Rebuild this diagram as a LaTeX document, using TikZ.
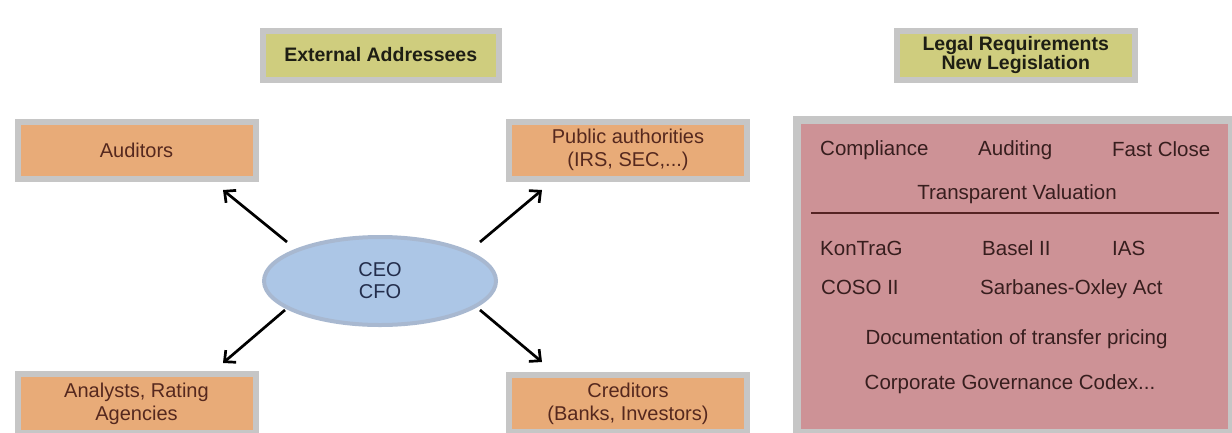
\documentclass[tikz,border=0pt]{standalone}
\usepackage{fontspec}
\setmainfont{Liberation Sans}
\usetikzlibrary{shapes.geometric,arrows.meta}

\definecolor{framegray}{RGB}{198,198,198}
\definecolor{headfill}{RGB}{207,205,126}
\definecolor{partyfill}{RGB}{232,171,120}
\definecolor{lawfill}{RGB}{205,146,150}
\definecolor{bossfill}{RGB}{172,198,230}
\definecolor{bossrim}{RGB}{168,184,208}
\definecolor{headtext}{RGB}{30,30,20}
\definecolor{partytext}{RGB}{85,40,30}
\definecolor{lawtext}{RGB}{55,30,30}
\definecolor{bosstext}{RGB}{35,45,75}
\definecolor{rulecolor}{RGB}{85,35,35}

\begin{document}
\begin{tikzpicture}[x=1pt,y=-1pt,
  framed/.style={draw=framegray,line width=6pt,rectangle,align=center,inner sep=0pt},
  headbox/.style={framed,fill=headfill,text=headtext,font=\fontsize{19.5}{18.5}\selectfont\bfseries},
  partybox/.style={framed,fill=partyfill,text=partytext,minimum width=238pt,font=\fontsize{20}{23}\selectfont},
  lawitem/.style={text=lawtext,font=\fontsize{20.5}{23}\selectfont,inner sep=0pt},
  link/.style={line width=2.7pt,black,-{Straight Barb[length=8.5pt,width=16pt,line width=2.7pt]}}
]
\useasboundingbox (0,0) rectangle (1232,432);

% headings
\node[headbox,minimum width=236.5pt,minimum height=49pt] (ext) at (380.75,55) {External Addressees};
\node[headbox,minimum width=238.5pt,minimum height=49pt] (leg) at (1015.75,55) {Legal Requirements\\New Legislation};

% addressee boxes
\node[partybox,minimum height=56.5pt] (aud) at (136.5,150.25) {Auditors};
\node[partybox,minimum height=56.5pt] (pub) at (628,150.25) {Public authorities\\(IRS, SEC,...)};
\node[partybox,minimum height=58.5pt] (ana) at (136.5,403.5) {Analysts, Rating\\Agencies};
\node[partybox,minimum height=57pt] (cre) at (628,403.5) {Creditors\\(Banks, Investors)};

% management
\node[ellipse,draw=bossrim,line width=4pt,fill=bossfill,minimum width=232pt,minimum height=88pt,
      text=bosstext,align=center,font=\fontsize{20}{22}\selectfont] (ceo) at (380,281) {CEO\\CFO};

% arrows from management to the addressees
\coordinate (t1) at (287,242); \coordinate (h1) at (223,190);
\coordinate (t2) at (480,242); \coordinate (h2) at (542,190);
\coordinate (t3) at (285,310); \coordinate (h3) at (223,363);
\coordinate (t4) at (480,310); \coordinate (h4) at (542,362);
\draw[link] (t1) -- (h1);
\draw[link] (t2) -- (h2);
\draw[link] (t3) -- (h3);
\draw[link] (t4) -- (h4);

% requirements panel
\node[draw=framegray,line width=8pt,fill=lawfill,rectangle,minimum width=435pt,minimum height=313pt,inner sep=0pt] (law) at (1014.5,276.5) {};

\node[lawitem,anchor=base west] (comp) at (820,155) {Compliance};
\node[lawitem,anchor=base west] (audit) at (978,155) {Auditing};
\node[lawitem,anchor=base west] (fast) at (1112,156) {Fast Close};
\node[lawitem,anchor=base] (trans) at (1017,199) {Transparent Valuation};

\coordinate (rl) at (811,213); \coordinate (rr) at (1219,213);
\draw[rulecolor,line width=2pt] (rl) -- (rr);

\node[lawitem,anchor=base west] (kon) at (820,255) {KonTraG};
\node[lawitem,anchor=base west] (basel) at (982,255) {Basel II};
\node[lawitem,anchor=base west] (ias) at (1112,255) {IAS};
\node[lawitem,anchor=base west] (coso) at (821,294) {COSO II};
\node[lawitem,anchor=base west] (sox) at (980,294) {Sarbanes-Oxley Act};
\node[lawitem,anchor=base] (doc) at (1016.5,344) {Documentation of transfer pricing};
\node[lawitem,anchor=base] (cgc) at (1010,389) {Corporate Governance Codex...};
\end{tikzpicture}
\end{document}
